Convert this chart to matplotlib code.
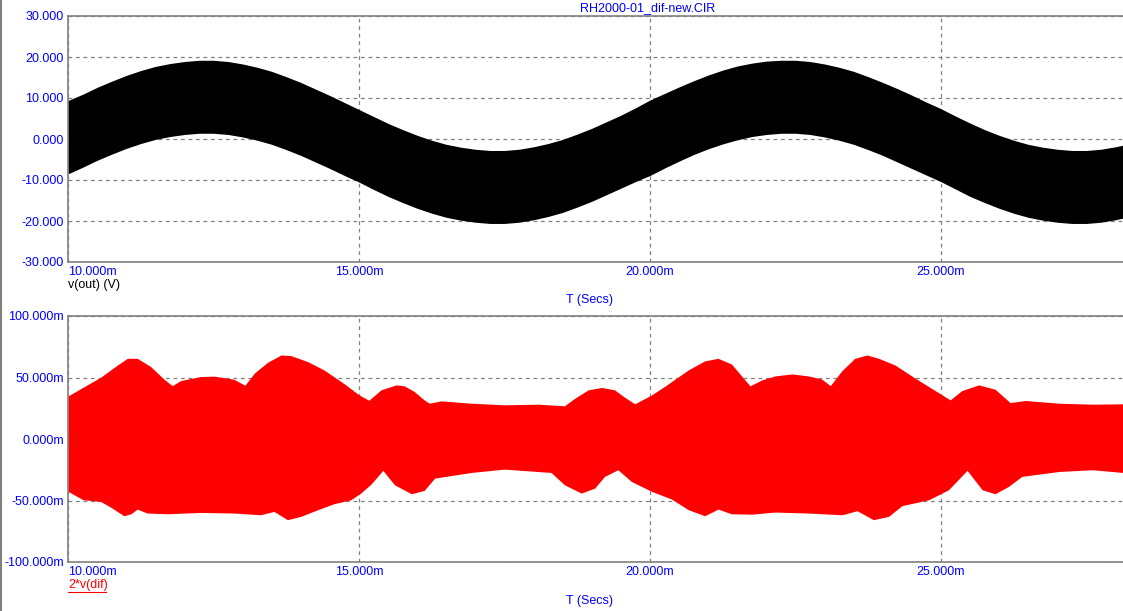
import matplotlib
matplotlib.use("Agg")
import matplotlib.pyplot as plt
from matplotlib.lines import Line2D
from matplotlib.ticker import FuncFormatter

plt.rcParams['font.family'] = ['Liberation Sans', 'DejaVu Sans']

# --- v(out): envelope of the black band (ms, V), read every 0.25 ms ---
t_out = [10.0, 10.25, 10.5, 10.75, 11.0, 11.25, 11.5, 11.75, 12.0, 12.25,
         12.5, 12.75, 13.0, 13.25, 13.5, 13.75, 14.0, 14.25, 14.5, 14.75,
         15.0, 15.25, 15.5, 15.75, 16.0, 16.25, 16.5, 16.75, 17.0, 17.25,
         17.5, 17.75, 18.0, 18.25, 18.5, 18.75, 19.0, 19.25, 19.5, 19.75,
         20.0, 20.25, 20.5, 20.75, 21.0, 21.25, 21.5, 21.75, 22.0, 22.25,
         22.5, 22.75, 23.0, 23.25, 23.5, 23.75, 24.0, 24.25, 24.5, 24.75,
         25.0, 25.25, 25.5, 25.75, 26.0, 26.25, 26.5, 26.75, 27.0, 27.25,
         27.5, 27.75, 28.0, 28.13]
out_hi = [9.4, 10.9, 12.6, 14.1, 15.5, 16.7, 17.7, 18.4, 18.9, 19.2,
          19.2, 18.9, 18.3, 17.5, 16.5, 15.2, 13.8, 12.2, 10.6, 8.9,
          7.2, 5.5, 3.8, 2.3, 0.9, -0.3, -1.3, -2.0, -2.5, -2.8,
          -2.8, -2.5, -1.9, -1.1, -0.1, 1.2, 2.6, 4.2, 5.8, 7.6,
          9.5, 11.1, 12.7, 14.2, 15.6, 16.8, 17.8, 18.5, 19.0, 19.2,
          19.2, 18.9, 18.3, 17.5, 16.5, 15.2, 13.8, 12.3, 10.7, 9.0,
          7.4, 5.6, 3.9, 2.3, 0.9, -0.3, -1.3, -2.0, -2.5, -2.8,
          -2.8, -2.5, -1.9, -1.5]
out_lo = [-8.5, -6.9, -5.2, -3.7, -2.3, -1.1, -0.1, 0.6, 1.1, 1.4,
          1.4, 1.1, 0.5, -0.3, -1.3, -2.6, -4.0, -5.6, -7.2, -8.9,
          -10.5, -12.3, -14.0, -15.5, -16.9, -18.1, -19.1, -19.8, -20.3, -20.6,
          -20.6, -20.3, -19.7, -18.9, -17.9, -16.6, -15.2, -13.6, -12.0, -10.4,
          -8.9, -7.1, -5.4, -3.8, -2.4, -1.2, -0.2, 0.6, 1.1, 1.4,
          1.4, 1.1, 0.5, -0.3, -1.3, -2.6, -4.0, -5.6, -7.2, -8.8,
          -10.4, -12.2, -14.0, -15.5, -16.9, -18.1, -19.1, -19.8, -20.3, -20.6,
          -20.6, -20.3, -19.7, -19.3]

# --- 2*v(dif): upper envelope (ms, mV) ---
t_dif_hi = [10.0, 10.33, 10.56, 10.85, 11.02, 11.19, 11.42, 11.65, 11.79, 11.94,
            12.28, 12.51, 12.85, 13.04, 13.20, 13.43, 13.66, 13.83, 14.12, 14.40,
            14.75, 15.00, 15.17, 15.38, 15.64, 15.78, 15.95, 16.12, 16.21, 16.41,
            16.93, 17.50, 18.08, 18.53, 18.71, 18.94, 19.17, 19.39, 19.57, 19.74,
            20.03, 20.25, 20.66, 20.94, 21.17, 21.40, 21.57, 21.72, 21.92, 22.15,
            22.44, 22.72, 22.95, 23.10, 23.30, 23.52, 23.73, 23.93, 24.21, 24.56,
            24.90, 25.16, 25.36, 25.65, 25.93, 26.19, 26.45, 27.03, 27.60, 28.13]
dif_hi = [35.0, 44.0, 50.2, 60.2, 65.6, 65.6, 58.9, 48.6, 43.4, 47.6,
          50.8, 51.1, 48.6, 43.7, 53.5, 62.4, 68.3, 67.8, 62.9, 56.1,
          44.8, 35.9, 31.5, 40.0, 44.0, 43.2, 38.6, 31.8, 29.1, 31.0,
          29.1, 27.8, 28.3, 27.0, 33.2, 40.0, 41.9, 40.0, 33.8, 28.6,
          35.9, 42.7, 56.2, 63.5, 65.6, 61.0, 51.5, 43.2, 48.0, 51.3,
          52.9, 51.3, 48.8, 43.4, 55.6, 65.6, 68.3, 65.6, 60.2, 49.4,
          39.4, 31.8, 39.4, 44.0, 40.5, 29.6, 31.3, 29.1, 28.3, 28.6]

# --- 2*v(dif): lower envelope (ms, mV) ---
t_dif_lo = [10.0, 10.26, 10.56, 10.73, 10.96, 11.08, 11.19, 11.36, 11.71, 12.28,
            12.85, 13.31, 13.54, 13.77, 14.00, 14.29, 14.57, 14.86, 15.03, 15.21,
            15.41, 15.61, 15.90, 16.12, 16.30, 16.41, 16.93, 17.50, 18.30, 18.53,
            18.82, 19.05, 19.22, 19.45, 19.68, 20.03, 20.37, 20.66, 20.94, 21.17,
            21.40, 21.75, 22.15, 22.72, 23.30, 23.56, 23.84, 24.10, 24.33, 24.79,
            25.13, 25.45, 25.71, 25.93, 26.16, 26.39, 27.03, 27.60, 28.13]
dif_lo = [-42.6, -49.4, -50.8, -55.3, -62.4, -60.8, -57.0, -60.2, -60.8, -59.7,
          -60.2, -61.6, -58.9, -65.6, -62.9, -57.5, -52.6, -49.4, -44.0, -36.5,
          -25.5, -37.2, -44.5, -41.8, -31.8, -31.0, -27.2, -24.5, -27.2, -37.2,
          -44.0, -39.9, -30.4, -25.0, -34.5, -42.6, -48.8, -57.5, -62.4, -57.0,
          -60.8, -61.1, -59.4, -60.2, -61.6, -58.3, -65.6, -62.9, -54.2, -49.4,
          -41.3, -25.5, -41.3, -44.5, -38.6, -30.4, -26.4, -25.0, -27.2]

x_ticks = [10, 15, 20, 25]
out_ticks = [-30, -20, -10, 0, 10, 20, 30]
dif_ticks = [-100, -50, 0, 50, 100]

W, H = 1123, 611
BLUE = '#0000ff'
RED = '#ff0000'
GRID = '#808080'
FS = 9

fig = plt.figure(figsize=(W / 100, H / 100), dpi=100)


def px_box(x0, y0, x1, y1):
    return [x0 / W, 1 - y1 / H, (x1 - x0) / W, (y1 - y0) / H]


ax1 = fig.add_axes(px_box(68, 16, 1123, 262))
ax2 = fig.add_axes(px_box(68, 316, 1123, 562))

ax1.fill_between(t_out, out_lo, out_hi, color='black', lw=0)
# two halves overlap around zero so no seam shows
ax2.fill_between(t_dif_lo, dif_lo, 10, color=RED, lw=0)
ax2.fill_between(t_dif_hi, -10, dif_hi, color=RED, lw=0)

ax1.set_ylim(-30, 30)
ax1.set_yticks(out_ticks)
ax1.yaxis.set_major_formatter(FuncFormatter(lambda v, p: f"{v:.3f}"))
ax2.set_ylim(-100, 100)
ax2.set_yticks(dif_ticks)
ax2.yaxis.set_major_formatter(FuncFormatter(lambda v, p: f"{v:.3f}m"))

for ax in (ax1, ax2):
    ax.set_xlim(10, 28.13)
    ax.set_xticks(x_ticks)
    ax.xaxis.set_major_formatter(FuncFormatter(lambda v, p: f"{v:.3f}m"))
    ax.tick_params(length=0, labelsize=FS, labelcolor=BLUE)
    ax.tick_params(axis='x', pad=3)
    ax.tick_params(axis='y', pad=3)
    ax.grid(True, color=GRID, ls=(0, (3, 3)), lw=0.9)
    ax.set_axisbelow(True)
    for side in ('left', 'top', 'bottom'):
        ax.spines[side].set_color(GRID)
        ax.spines[side].set_linewidth(1.2)
    ax.spines['right'].set_visible(False)

fig.canvas.draw()
for ax in (ax1, ax2):
    ax.get_xticklabels()[0].set_ha('left')

fig.text(648 / W, 1 - 8 / H, "RH2000-01_dif-new.CIR", color=BLUE, fontsize=FS,
         ha='center', va='center')
fig.text(589 / W, 1 - 300 / H, "T (Secs)", color=BLUE, fontsize=FS,
         ha='center', va='center')
fig.text(589 / W, 1 - 601 / H, "T (Secs)", color=BLUE, fontsize=FS,
         ha='center', va='center')
fig.text(68 / W, 1 - 285 / H, "v(out) (V)", color='black', fontsize=FS,
         ha='left', va='center')
fig.text(68 / W, 1 - 585 / H, "2*v(dif)", color=RED, fontsize=FS,
         ha='left', va='center')
# underline under the red trace name
fig.add_artist(Line2D([68 / W, 106 / W], [1 - 592 / H, 1 - 592 / H],
                      color=RED, lw=0.8))
# window frame at the left edge
fig.add_artist(Line2D([0.8 / W, 0.8 / W], [0, 1], color=GRID, lw=1.5))

fig.savefig("out.png", dpi=100)
